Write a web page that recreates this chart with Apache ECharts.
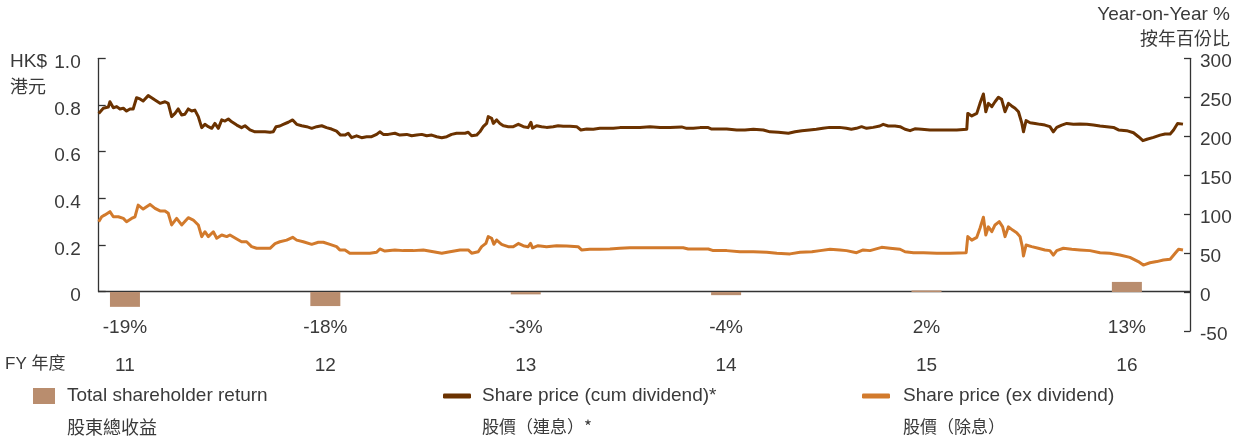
<!DOCTYPE html>
<html>
<head>
<meta charset="utf-8">
<script src="https://cdn.jsdelivr.net/npm/echarts@6/dist/echarts.min.js"></script>
<style>
html,body{margin:0;padding:0;background:#fff;}
#chart{width:1238px;height:441px;}
</style>
</head>
<body>
<div id="chart"></div>
<script>
// ---- Data ----
const fyLabels = ['11', '12', '13', '14', '15', '16'];
const tsrValues = [-19, -18, -3, -4, 2, 13];          // Total shareholder return, %
const leftTickLabels = ['0', '0.2', '0.4', '0.6', '0.8', '1.0'];
const rightTickLabels = ['-50', '0', '50', '100', '150', '200', '250', '300'];

// dates expressed as fractional fiscal years
const cumDates = [10.869,10.892,10.917,10.925,10.942,10.959,10.975,10.992,11.008,11.025,
11.041,11.058,11.075,11.091,11.116,11.133,11.150,11.175,11.200,11.216,
11.233,11.250,11.266,11.283,11.299,11.316,11.333,11.349,11.366,11.383,
11.399,11.416,11.433,11.449,11.466,11.483,11.499,11.516,11.533,11.558,
11.582,11.599,11.624,11.649,11.674,11.699,11.724,11.740,11.754,11.773,
11.790,11.815,11.837,11.857,11.882,11.907,11.932,11.957,11.982,12.006,
12.031,12.056,12.076,12.098,12.114,12.131,12.156,12.181,12.206,12.231,
12.256,12.272,12.289,12.314,12.347,12.372,12.406,12.431,12.456,12.481,
12.506,12.531,12.556,12.581,12.606,12.630,12.655,12.697,12.713,12.730,
12.755,12.771,12.788,12.805,12.813,12.830,12.838,12.855,12.871,12.888,
12.913,12.938,12.963,12.988,13.012,13.026,13.034,13.054,13.079,13.104,
13.137,13.162,13.187,13.221,13.254,13.275,13.304,13.337,13.370,13.404,
13.437,13.470,13.504,13.570,13.620,13.670,13.720,13.778,13.803,13.836,
13.870,13.911,13.928,13.961,14.003,14.053,14.094,14.136,14.186,14.219,
14.261,14.311,14.344,14.378,14.416,14.450,14.483,14.516,14.566,14.600,
14.625,14.650,14.676,14.701,14.734,14.767,14.784,14.809,14.843,14.868,
14.893,14.918,14.942,14.976,15.017,15.059,15.101,15.151,15.201,15.206,
15.226,15.251,15.267,15.284,15.296,15.309,15.326,15.342,15.359,15.375,
15.392,15.409,15.425,15.442,15.459,15.476,15.484,15.497,15.517,15.542,
15.567,15.591,15.616,15.633,15.650,15.675,15.700,15.733,15.766,15.800,
15.833,15.866,15.900,15.933,15.958,15.999,16.033,16.058,16.080,16.100,
16.133,16.166,16.191,16.216,16.233,16.253,16.280];

const cumPrice = [0.764,0.786,0.791,0.814,0.788,0.793,0.783,0.786,0.774,0.783,
0.783,0.831,0.826,0.817,0.840,0.831,0.821,0.807,0.814,0.807,
0.750,0.764,0.783,0.757,0.760,0.783,0.774,0.778,0.750,0.703,
0.717,0.707,0.700,0.721,0.700,0.736,0.731,0.740,0.728,0.714,
0.703,0.711,0.693,0.685,0.685,0.685,0.683,0.685,0.707,0.710,
0.717,0.726,0.736,0.717,0.711,0.707,0.700,0.707,0.711,0.703,
0.697,0.688,0.671,0.671,0.679,0.660,0.668,0.660,0.664,0.664,
0.674,0.685,0.674,0.674,0.679,0.671,0.674,0.668,0.671,0.674,
0.668,0.671,0.664,0.660,0.664,0.674,0.679,0.679,0.683,0.668,
0.671,0.685,0.707,0.721,0.750,0.743,0.721,0.736,0.721,0.711,
0.707,0.707,0.717,0.707,0.703,0.726,0.700,0.711,0.707,0.704,
0.707,0.711,0.709,0.709,0.707,0.693,0.697,0.696,0.700,0.700,
0.700,0.703,0.704,0.704,0.707,0.704,0.704,0.706,0.700,0.700,
0.703,0.703,0.697,0.697,0.697,0.693,0.693,0.696,0.693,0.685,
0.683,0.679,0.685,0.690,0.693,0.696,0.700,0.704,0.704,0.700,
0.696,0.700,0.707,0.700,0.704,0.710,0.717,0.710,0.710,0.707,
0.696,0.690,0.698,0.696,0.693,0.693,0.693,0.693,0.696,0.764,
0.753,0.764,0.807,0.847,0.771,0.807,0.793,0.814,0.833,0.824,
0.771,0.807,0.796,0.786,0.771,0.721,0.685,0.733,0.724,0.721,
0.717,0.714,0.707,0.685,0.704,0.714,0.721,0.717,0.718,0.717,
0.714,0.710,0.707,0.704,0.693,0.690,0.681,0.664,0.647,0.653,
0.661,0.671,0.676,0.676,0.693,0.721,0.718];

const exDates = [10.869,10.884,10.900,10.925,10.942,10.967,10.992,11.008,11.033,11.050,
11.066,11.091,11.125,11.150,11.175,11.200,11.216,11.233,11.258,11.283,
11.316,11.341,11.366,11.383,11.399,11.416,11.441,11.458,11.483,11.508,
11.524,11.558,11.582,11.607,11.632,11.657,11.690,11.724,11.749,11.773,
11.807,11.837,11.857,11.890,11.932,11.965,11.990,12.023,12.056,12.072,
12.098,12.122,12.156,12.189,12.222,12.256,12.272,12.297,12.347,12.389,
12.439,12.489,12.539,12.581,12.622,12.672,12.713,12.730,12.763,12.780,
12.801,12.813,12.830,12.841,12.855,12.880,12.913,12.938,12.963,12.988,
13.012,13.024,13.034,13.062,13.104,13.154,13.204,13.262,13.279,13.320,
13.370,13.420,13.470,13.520,13.587,13.653,13.720,13.786,13.811,13.870,
13.911,13.936,14.003,14.069,14.136,14.203,14.253,14.319,14.369,14.428,
14.469,14.519,14.568,14.601,14.651,14.684,14.718,14.776,14.818,14.868,
14.893,14.935,14.985,15.052,15.118,15.198,15.206,15.226,15.251,15.267,
15.284,15.296,15.309,15.326,15.342,15.363,15.380,15.392,15.409,15.430,
15.450,15.467,15.478,15.484,15.497,15.525,15.558,15.591,15.616,15.633,
15.650,15.683,15.725,15.766,15.816,15.866,15.915,15.965,16.015,16.057,
16.082,16.115,16.149,16.182,16.216,16.241,16.258,16.280];

const exPrice = [0.300,0.321,0.329,0.343,0.321,0.321,0.314,0.300,0.314,0.321,
0.371,0.354,0.374,0.357,0.346,0.346,0.336,0.286,0.314,0.286,
0.317,0.307,0.286,0.236,0.257,0.236,0.257,0.229,0.243,0.236,
0.243,0.226,0.214,0.214,0.193,0.186,0.186,0.186,0.206,0.214,
0.221,0.233,0.221,0.214,0.203,0.212,0.212,0.203,0.193,0.179,
0.179,0.165,0.165,0.165,0.165,0.169,0.183,0.174,0.179,0.176,
0.176,0.179,0.171,0.165,0.171,0.179,0.179,0.165,0.171,0.193,
0.207,0.236,0.229,0.203,0.221,0.203,0.193,0.193,0.207,0.197,
0.193,0.207,0.188,0.197,0.193,0.197,0.196,0.193,0.179,0.182,
0.182,0.183,0.186,0.188,0.188,0.188,0.188,0.188,0.183,0.183,
0.183,0.176,0.176,0.171,0.171,0.169,0.165,0.162,0.169,0.171,
0.176,0.182,0.179,0.176,0.167,0.179,0.176,0.190,0.186,0.182,
0.171,0.167,0.167,0.165,0.165,0.167,0.236,0.221,0.233,0.272,
0.319,0.243,0.278,0.257,0.286,0.300,0.278,0.236,0.278,0.264,
0.253,0.236,0.193,0.153,0.200,0.193,0.186,0.179,0.176,0.157,
0.176,0.186,0.182,0.179,0.176,0.167,0.165,0.157,0.147,0.129,
0.114,0.124,0.129,0.136,0.139,0.165,0.182,0.179];

// ---- Styling ----
const TXT = '#3a3a3a';
const AX = '#333333';
const LATIN = '"Liberation Sans", Arial, "Noto Sans CJK TC", sans-serif';
const CJK = '"Noto Sans CJK TC", "Liberation Sans", sans-serif';
const C_BAR = '#B98D6E';
const C_CUM = '#6B3200';
const C_EX = '#D27A2C';
const FS = 19;

const X_MIN = 10.869, X_MAX = 16.315;

const zip = (xs, ys) => xs.map((x, i) => [x, ys[i]]);

const chart = echarts.init(document.getElementById('chart'), null, {renderer: 'canvas'});

function title(text, pos, font, size) {
  return Object.assign({
    text: text, padding: 0, itemGap: 0,
    textStyle: {fontFamily: font, fontSize: size || FS, fontWeight: 'normal', color: TXT, lineHeight: 22}
  }, pos);
}

const option = {
  animation: false,
  backgroundColor: '#ffffff',
  textStyle: {fontFamily: LATIN},
  title: [
    title('HK$', {left: 10, top: 51}, LATIN, 19),
    title('港元', {left: 10, top: 75}, CJK, 18),
    title('Year-on-Year %', {right: 8, top: 4}, LATIN, 19),
    title('按年百份比', {right: 8, top: 27}, CJK, 18),
    title('FY 年度', {left: 5, top: 353}, LATIN, 17),
    title('股東總收益', {left: 67, top: 416}, CJK, 18),
    title('股價（連息）*', {left: 482, top: 416}, CJK, 17),
    title('股價（除息）', {left: 903, top: 416}, CJK, 17)
  ],
  legend: [
    {data: [{name: 'Total shareholder return', icon: 'rect'}], left: 33, top: 385, padding: 0,
     itemWidth: 22, itemHeight: 16,
     textStyle: {fontFamily: LATIN, fontSize: FS, color: TXT, padding: [0, 0, 0, 7], lineHeight: 22}},
    {data: [{name: 'Share price (cum dividend)*', icon: 'roundRect'}], left: 443, top: 385, padding: 0,
     itemWidth: 28, itemHeight: 5,
     textStyle: {fontFamily: LATIN, fontSize: FS, color: TXT, padding: [0, 0, 0, 6], lineHeight: 22}},
    {data: [{name: 'Share price (ex dividend)', icon: 'roundRect'}], left: 862, top: 385, padding: 0,
     itemWidth: 28, itemHeight: 5,
     textStyle: {fontFamily: LATIN, fontSize: FS, color: TXT, padding: [0, 0, 0, 8], lineHeight: 22}}
  ],
  grid: [
    {left: 98.7, right: 48, top: 58.3, bottom: 149.3, containLabel: false},
    {left: 98.7, right: 48, top: 58.3, bottom: 110, containLabel: false}
  ],
  xAxis: [
    {
      type: 'value', gridIndex: 0, min: X_MIN, max: X_MAX,
      axisLine: {show: true, lineStyle: {color: AX, width: 1.3}},
      axisTick: {show: false},
      splitLine: {show: false},
      axisLabel: {
        customValues: fyLabels.map(Number),
        margin: 17,
        formatter: function (v) {
          const i = fyLabels.indexOf(String(Math.round(v)));
          return '{p|' + tsrValues[i] + '%}\n{y|' + fyLabels[i] + '}';
        },
        rich: {
          p: {fontFamily: LATIN, fontSize: FS, lineHeight: 38, color: TXT},
          y: {fontFamily: LATIN, fontSize: FS, lineHeight: 38, color: TXT}
        }
      }
    },
    {
      type: 'value', gridIndex: 1, min: X_MIN, max: X_MAX, show: false,
      splitLine: {show: false}
    }
  ],
  yAxis: [
    {
      type: 'value', gridIndex: 0, position: 'left', min: 0, max: 1, interval: 0.2,
      axisLine: {show: true, lineStyle: {color: AX, width: 1.3}},
      axisTick: {show: true, inside: true, length: 7, lineStyle: {color: AX, width: 1.3}},
      splitLine: {show: false},
      axisLabel: {
        margin: 18, fontFamily: LATIN, fontSize: FS, color: TXT,
        verticalAlign: 'top', lineHeight: 9,
        formatter: function (v) { return leftTickLabels[Math.round(v * 5)]; }
      }
    },
    {
      type: 'value', gridIndex: 1, position: 'right', min: -50, max: 300, interval: 50,
      axisLine: {show: true, lineStyle: {color: AX, width: 1.3}},
      axisTick: {show: true, inside: true, length: 6, lineStyle: {color: AX, width: 1.3}},
      splitLine: {show: false},
      axisLabel: {
        margin: 10, fontFamily: LATIN, fontSize: FS, color: TXT,
        verticalAlign: 'top', lineHeight: 7,
        formatter: function (v) { return rightTickLabels[Math.round((v + 50) / 50)]; }
      }
    }
  ],
  series: [
    {
      name: 'Total shareholder return', type: 'bar', xAxisIndex: 1, yAxisIndex: 1,
      barWidth: 30, itemStyle: {color: C_BAR},
      data: fyLabels.map((f, i) => [Number(f), tsrValues[i]])
    },
    {
      name: 'Share price (cum dividend)*', type: 'line', xAxisIndex: 0, yAxisIndex: 0,
      showSymbol: false, symbol: 'none', color: C_CUM,
      lineStyle: {color: C_CUM, width: 3, join: 'round'},
      data: zip(cumDates, cumPrice)
    },
    {
      name: 'Share price (ex dividend)', type: 'line', xAxisIndex: 0, yAxisIndex: 0,
      showSymbol: false, symbol: 'none', color: C_EX,
      lineStyle: {color: C_EX, width: 3, join: 'round'},
      data: zip(exDates, exPrice)
    }
  ]
};
chart.setOption(option);
</script>
</body>
</html>
